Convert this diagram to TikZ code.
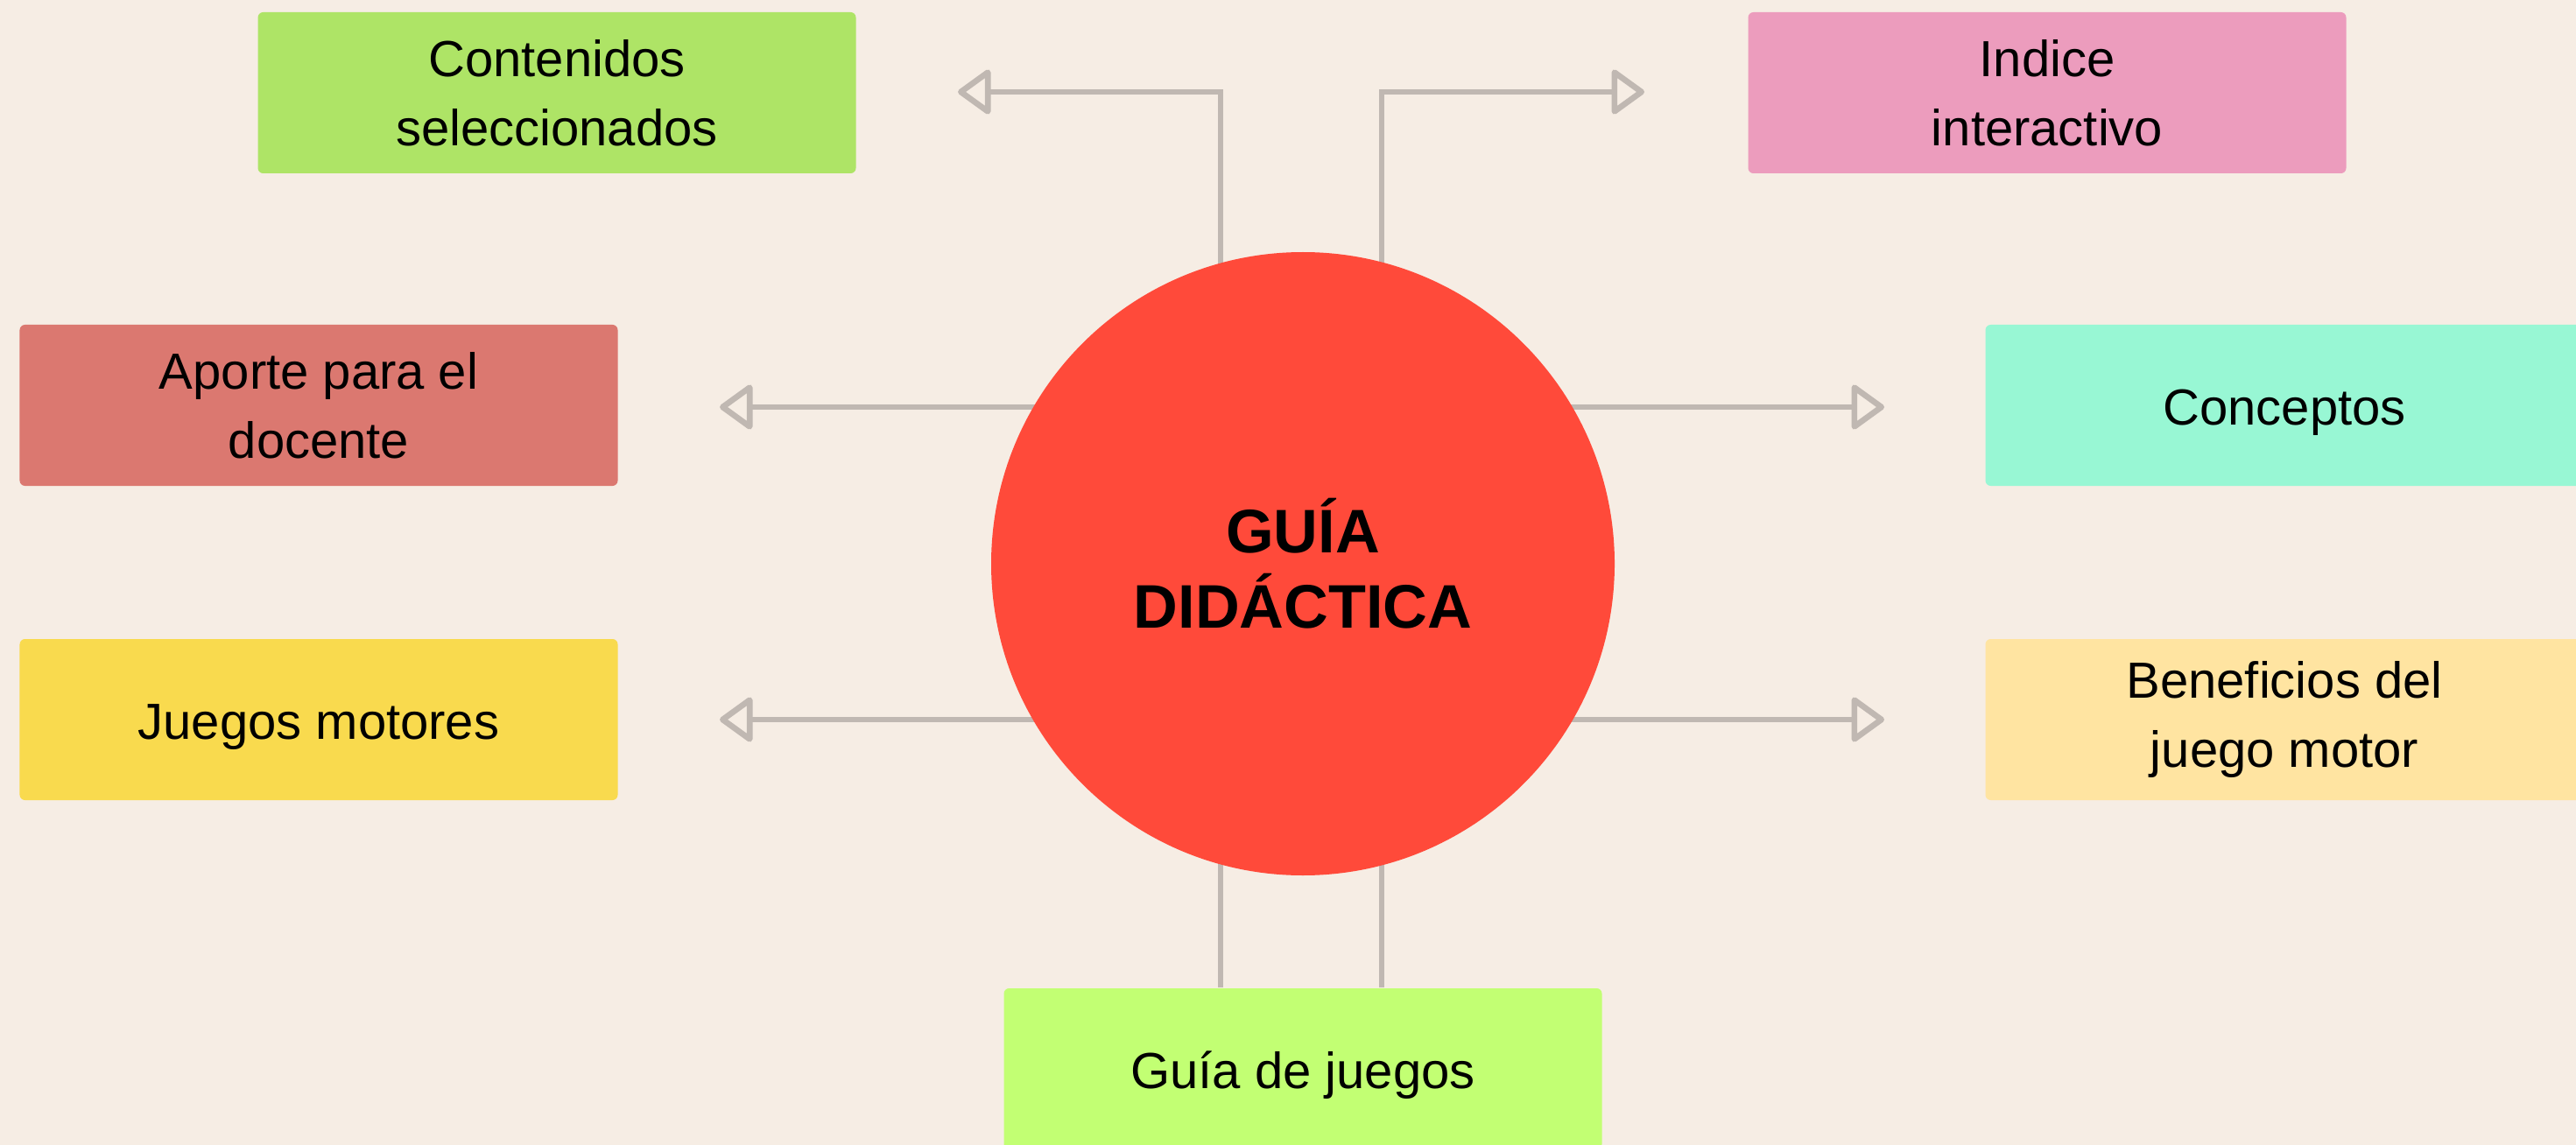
\documentclass[tikz,border=0pt]{standalone}
\usepackage{fontspec}
\setmainfont{Liberation Sans}
\usepackage{tikz}
\usetikzlibrary{arrows.meta,positioning}
\definecolor{fondo}{HTML}{F6EDE4}
\definecolor{rojo}{HTML}{FF4A3A}
\definecolor{gris}{HTML}{C0B8B2}
\definecolor{verdec}{HTML}{AEE466}
\definecolor{rosa}{HTML}{EC9CBD}
\definecolor{salmon}{HTML}{DB7870}
\definecolor{menta}{HTML}{98F7D4}
\definecolor{amarillo}{HTML}{F9DA4E}
\definecolor{crema}{HTML}{FFE4A1}
\definecolor{lima}{HTML}{C2FF73}
\pgfdeclarelayer{capa}
\pgfsetlayers{capa,main}

\begin{document}
\begin{tikzpicture}[on grid, >={Triangle[open,length=0.40cm,width=0.56cm,round]},
    tema/.style={rectangle,rounded corners=0.06cm,minimum width=6.83cm,minimum height=1.84cm,align=center,font=\fontsize{16.5}{22.4}\selectfont},
    una/.style={text height=16.5pt,text depth=3.5pt},
    centro/.style={circle,fill=rojo,minimum size=7.12cm,align=center,font=\bfseries\fontsize{20}{24.5}\selectfont},
    enlace/.style={draw=gris,line width=1.9pt}]
        \useasboundingbox (0,0) rectangle (29.42,-13.08);
        \node[centro]             (guia) at (14.88,-6.44)                              {GUÍA\\DIDÁCTICA};
        \node[tema,fill=verdec]   (contenidos) [above left=5.38cm and 8.52cm of guia]  {Contenidos\\seleccionados};
        \node[tema,fill=rosa]     (indice)     [above right=5.38cm and 8.50cm of guia] {Indice\\interactivo};
        \node[tema,fill=salmon]   (aporte)     [above left=1.81cm and 11.24cm of guia] {Aporte para el\\docente};
        \node[tema,una,fill=menta]    (conceptos)  [above right=1.81cm and 11.21cm of guia] {Conceptos};
        \node[tema,una,fill=amarillo] (motores)    [below left=1.78cm and 11.24cm of guia] {Juegos motores};
        \node[tema,fill=crema]    (beneficios) [below right=1.78cm and 11.21cm of guia] {Beneficios del\\juego motor};
        \node[tema,una,fill=lima]     (juegos)     [below=5.77cm of guia]                  {Guía de juegos};

        % puntas de flecha
        \coordinate (pc) at (10.94,-1.05);
        \coordinate (pi) at (18.78,-1.05);
        \coordinate (pa) at (8.22,-4.65);
        \coordinate (pm) at (8.22,-8.22);
        \coordinate (pk) at (21.52,-4.65);
        \coordinate (pb) at (21.52,-8.22);

        \begin{pgfonlayer}{capa}
            \fill[fondo] (0,0) rectangle (29.42,-13.08);
            \draw[enlace,->] ([xshift=-0.94cm]guia.center) |- (pc);
            \draw[enlace,->] ([xshift=0.90cm]guia.center)  |- (pi);
            \draw[enlace,->] (guia.center |- pa) -- (pa);
            \draw[enlace,->] (guia.center |- pm) -- (pm);
            \draw[enlace,->] (guia.center |- pk) -- (pk);
            \draw[enlace,->] (guia.center |- pb) -- (pb);
            \draw[enlace] ([xshift=-0.94cm]guia.center) -- ([xshift=-0.94cm]guia.center |- juegos.north);
            \draw[enlace] ([xshift=0.90cm]guia.center)  -- ([xshift=0.90cm]guia.center |- juegos.north);
        \end{pgfonlayer}
\end{tikzpicture}
\end{document}
